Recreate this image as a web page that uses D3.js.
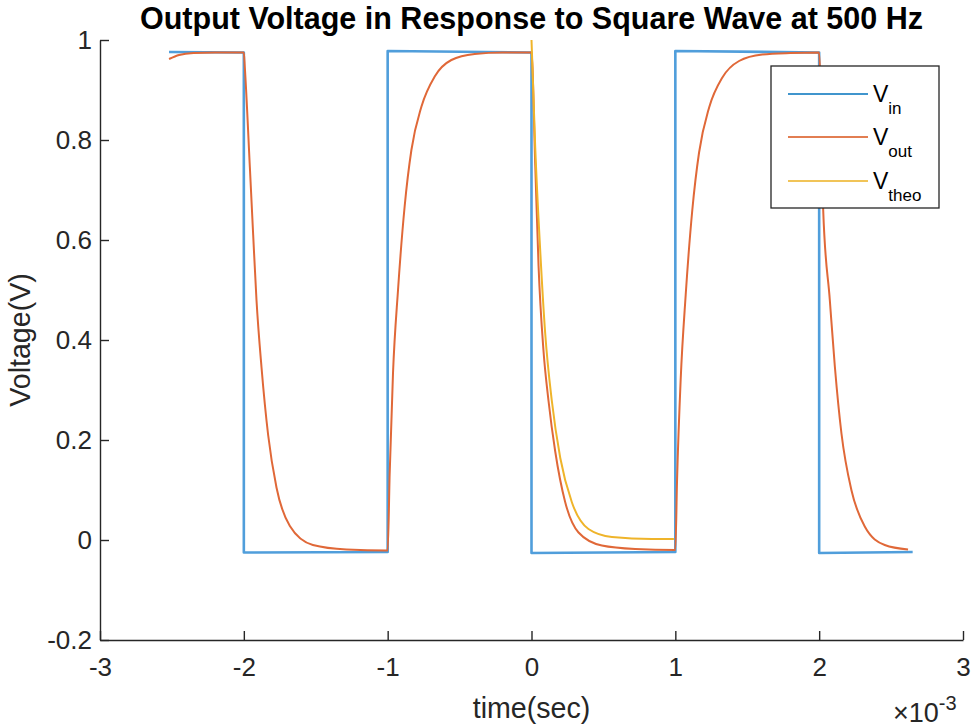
<!DOCTYPE html>
<html>
<head>
<meta charset="utf-8">
<script src="https://cdn.jsdelivr.net/npm/d3@7"></script>
<style>
body { margin: 0; background: #fff; }
svg { display: block; font-family: "Liberation Sans", Arial, sans-serif; }
</style>
</head>
<body>
<script>
const w = 971;
const h = 728;
const plotLeft = 100, plotRight = 963, plotTop = 40, plotBottom = 640;

// time is in ms (the axis shows x10^-3 sec), voltage in V
const xTicks = [-3, -2, -1, 0, 1, 2, 3];
const yTicks = [-0.2, 0, 0.2, 0.4, 0.6, 0.8, 1];

const vinT = [-2.52, -2.0, -2.0, -1.0, -1.0, 0.0, 0.0, 1.0, 1.0, 2.0, 2.0, 2.65];
const vinV = [0.976, 0.975, -0.025, -0.024, 0.978, 0.975, -0.026, -0.024, 0.978, 0.975, -0.026, -0.024];

const voutT = [-2.52, -2.45, -2.35, -2.2, -2.0, -1.993, -1.958, -1.935, -1.912, -1.877, -1.831, -1.773, -1.68, -1.52, -1.286, -1.0,
  -0.986, -0.963, -0.928, -0.882, -0.835, -0.765, -0.673, -0.557, -0.395, -0.2, 0.0,
  0.026, 0.049, 0.083, 0.118, 0.165, 0.234, 0.327, 0.489, 0.721, 1.0,
  1.012, 1.037, 1.072, 1.118, 1.165, 1.235, 1.327, 1.443, 1.605, 1.8, 2.0,
  2.01, 2.028, 2.074, 2.109, 2.155, 2.224, 2.317, 2.456, 2.618];
const voutV = [0.962, 0.970, 0.974, 0.975, 0.975, 0.945, 0.745, 0.610, 0.480, 0.345, 0.210, 0.105, 0.028, -0.010, -0.019, -0.021,
  0.133, 0.333, 0.500, 0.667, 0.780, 0.867, 0.927, 0.960, 0.972, 0.975, 0.975,
  0.750, 0.548, 0.380, 0.279, 0.177, 0.076, 0.015, -0.011, -0.018, -0.020,
  0.120, 0.320, 0.490, 0.660, 0.775, 0.865, 0.925, 0.958, 0.971, 0.974, 0.975,
  0.900, 0.660, 0.480, 0.347, 0.213, 0.100, 0.027, -0.010, -0.019];

const vtheoT = [0.0, 0.026, 0.06, 0.095, 0.141, 0.2, 0.28, 0.396, 0.559, 0.837, 0.99];
const vtheoV = [1.0, 0.784, 0.582, 0.414, 0.279, 0.164, 0.076, 0.022, 0.006, 0.002, 0.002];

const series = [
  {name: "in", t: vinT, v: vinV, color: "#509edb", legColor: "#0072bd", width: 2.6, curve: d3.curveLinear},
  {name: "out", t: voutT, v: voutV, color: "#e06838", legColor: "#d95319", width: 2, curve: d3.curveMonotoneX},
  {name: "theo", t: vtheoT, v: vtheoV, color: "#efb42a", legColor: "#edb120", width: 2, curve: d3.curveMonotoneX}
];

const svg = d3.select("body").append("svg")
  .attr("width", w)
  .attr("height", h);

const xScale = d3.scaleLinear().domain([-3, 3]).range([plotLeft, plotRight]);
const yScale = d3.scaleLinear().domain([-0.2, 1]).range([plotBottom, plotTop]);

// curves
series.forEach((s) => {
  const pts = s.t.map((t, i) => [t, s.v[i]]);
  const line = d3.line()
    .x((d) => xScale(d[0]))
    .y((d) => yScale(d[1]))
    .curve(s.curve);
  svg.append("path")
    .datum(pts)
    .attr("d", line)
    .attr("fill", "none")
    .attr("stroke", s.color)
    .attr("stroke-width", s.width)
    .attr("stroke-linejoin", "round");
});

// axes (MATLAB style: ticks inside, no box)
const xAxis = d3.axisBottom(xScale)
  .tickValues(xTicks)
  .tickFormat((d) => String(d))
  .tickSizeInner(-9)
  .tickSizeOuter(0)
  .tickPadding(18);

const yAxis = d3.axisLeft(yScale)
  .tickValues(yTicks)
  .tickFormat((d) => String(+d.toFixed(1)))
  .tickSizeInner(-9)
  .tickSizeOuter(0)
  .tickPadding(8);

const gx = svg.append("g")
  .attr("transform", "translate(0," + plotBottom + ")")
  .call(xAxis);

const gy = svg.append("g")
  .attr("transform", "translate(" + plotLeft + ",0)")
  .call(yAxis);

[gx, gy].forEach((g) => {
  g.select(".domain").attr("stroke", "#262626").attr("stroke-width", 1.4);
  g.selectAll(".tick line").attr("stroke", "#262626").attr("stroke-width", 1.4);
  g.selectAll(".tick text")
    .attr("fill", "#262626")
    .attr("font-size", 26)
    .attr("font-family", "Liberation Sans, Arial, sans-serif");
});

// title and labels
svg.append("text")
  .attr("x", (plotLeft + plotRight) / 2)
  .attr("y", 29)
  .attr("text-anchor", "middle")
  .attr("font-size", 30.5)
  .attr("font-weight", "bold")
  .attr("fill", "#000")
  .text("Output Voltage in Response to Square Wave at 500 Hz");

svg.append("text")
  .attr("transform", "translate(30,340) rotate(-90)")
  .attr("text-anchor", "middle")
  .attr("font-size", 28.6)
  .attr("fill", "#262626")
  .text("Voltage(V)");

svg.append("text")
  .attr("x", (plotLeft + plotRight) / 2)
  .attr("y", 718)
  .attr("text-anchor", "middle")
  .attr("font-size", 28.6)
  .attr("fill", "#262626")
  .text("time(sec)");

const expo = svg.append("text")
  .attr("x", 893)
  .attr("y", 722)
  .attr("font-size", 27)
  .attr("fill", "#262626");
expo.append("tspan").text("\u00d710");
expo.append("tspan").attr("dy", -12).attr("font-size", 20).text("-3");

// legend
const legX = 771, legY = 66, legW = 168, legH = 142;
const rowY = [94, 137, 181];

const legend = svg.append("g");
legend.append("rect")
  .attr("x", legX)
  .attr("y", legY)
  .attr("width", legW)
  .attr("height", legH)
  .attr("fill", "#fff")
  .attr("stroke", "#262626")
  .attr("stroke-width", 1.3);

series.forEach((s, i) => {
  legend.append("line")
    .attr("x1", legX + 17)
    .attr("x2", legX + 97)
    .attr("y1", rowY[i])
    .attr("y2", rowY[i])
    .attr("stroke", s.legColor)
    .attr("stroke-width", 1.6);
  const t = legend.append("text")
    .attr("x", legX + 102)
    .attr("y", rowY[i] + 8)
    .attr("font-size", 23)
    .attr("fill", "#000");
  t.append("tspan").text("V");
  t.append("tspan").attr("dy", 12).attr("font-size", 17).text(s.name);
});
</script>
</body>
</html>
